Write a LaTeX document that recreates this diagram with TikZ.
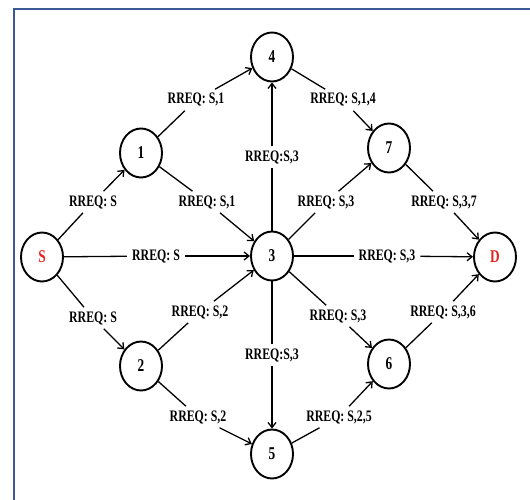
\documentclass[tikz,border=0pt]{standalone}
\usepackage{fontspec}
\setmainfont{Liberation Serif}[FakeStretch=0.74]
\usetikzlibrary{arrows.meta,shapes.geometric}
\definecolor{frameblue}{HTML}{3C5A96}
\definecolor{sred}{HTML}{E52421}
\begin{document}
\begin{tikzpicture}[x=1pt,y=-1pt,
  nd/.style={draw, ellipse, line width=1.9pt, minimum width=42pt, minimum height=49pt, inner sep=0pt, font=\fontsize{18}{18}\selectfont\bfseries},
  lbl/.style={fill=white, inner xsep=5pt, inner ysep=4pt, font=\fontsize{16}{16}\selectfont\bfseries},
  ed/.style={line width=1.3pt},
  ar/.style={ed, -{Straight Barb[length=5pt,width=8pt,line width=1.3pt]}}
]
\useasboundingbox (0,0) rectangle (530,500);
\draw[frameblue, line width=2.2pt] (14,500) -- (14,9) -- (530,9);

% nodes
\node[nd, text=sred] (S) at (42,257) {S};
\node[nd] (n1) at (141,153) {1};
\node[nd] (n2) at (141,366) {2};
\node[nd] (n3) at (272,256) {3};
\node[nd] (n4) at (272,57) {4};
\node[nd] (n5) at (272,454) {5};
\node[nd] (n6) at (389,364) {6};
\node[nd] (n7) at (389,148) {7};
\node[nd, text=sred] (D) at (495,257) {D};

% labels
\node[lbl] (lA) at (93,202) {RREQ: S};
\node[lbl] (lB) at (196,100) {RREQ: S,1};
\node[lbl] (lC) at (343,100) {RREQ: S,1,4};
\node[lbl] (lD) at (272,157) {RREQ:S,3};
\node[lbl] (lE) at (207,202) {RREQ: S,1};
\node[lbl] (lF) at (326,202) {RREQ: S,3};
\node[lbl] (lG) at (444,202) {RREQ: S,3,7};
\node[lbl] (lH) at (156,256) {RREQ: S};
\node[lbl] (lI) at (387,256) {RREQ: S,3};
\node[lbl] (lJ) at (93,318) {RREQ: S};
\node[lbl] (lK) at (200,312) {RREQ: S,2};
\node[lbl] (lL) at (338,316) {RREQ: S,3};
\node[lbl] (lM) at (443,312) {RREQ: S,3,6};
\node[lbl] (lN) at (272,355) {RREQ:S,3};
\node[lbl] (lO) at (198,417) {RREQ: S,2};
\node[lbl] (lP) at (339,417) {RREQ: S,2,5};

% connectors
\draw[ed] (S) -- (lA); \draw[ar] (lA) -- (n1);
\draw[ed] (n1) -- (lB); \draw[ar] (lB) -- (n4);
\draw[ed] (n4) -- (lC); \draw[ar] (lC) -- (n7);
\draw[ed] (n3) -- (lD); \draw[ar] (lD) -- (n4);
\draw[ed] (n1) -- (lE); \draw[ar] (lE) -- (n3);
\draw[ed] (n3) -- (lF); \draw[ar] (lF) -- (n7);
\draw[ed] (n7) -- (lG); \draw[ar] (lG) -- (D);
\draw[ed] (S) -- (lH); \draw[ar] (lH) -- (n3);
\draw[ed] (n3) -- (lI); \draw[ar] (lI) -- (D);
\draw[ed] (S) -- (lJ); \draw[ar] (lJ) -- (n2);
\draw[ed] (n2) -- (lK); \draw[ar] (lK) -- (n3);
\draw[ed] (n3) -- (lL); \draw[ar] (lL) -- (n6);
\draw[ed] (n6) -- (lM); \draw[ar] (lM) -- (D);
\draw[ed] (n3) -- (lN); \draw[ar] (lN) -- (n5);
\draw[ed] (n2) -- (lO); \draw[ar] (lO) -- (n5);
\draw[ed] (n5) -- (lP); \draw[ar] (lP) -- (n6);
\end{tikzpicture}
\end{document}
